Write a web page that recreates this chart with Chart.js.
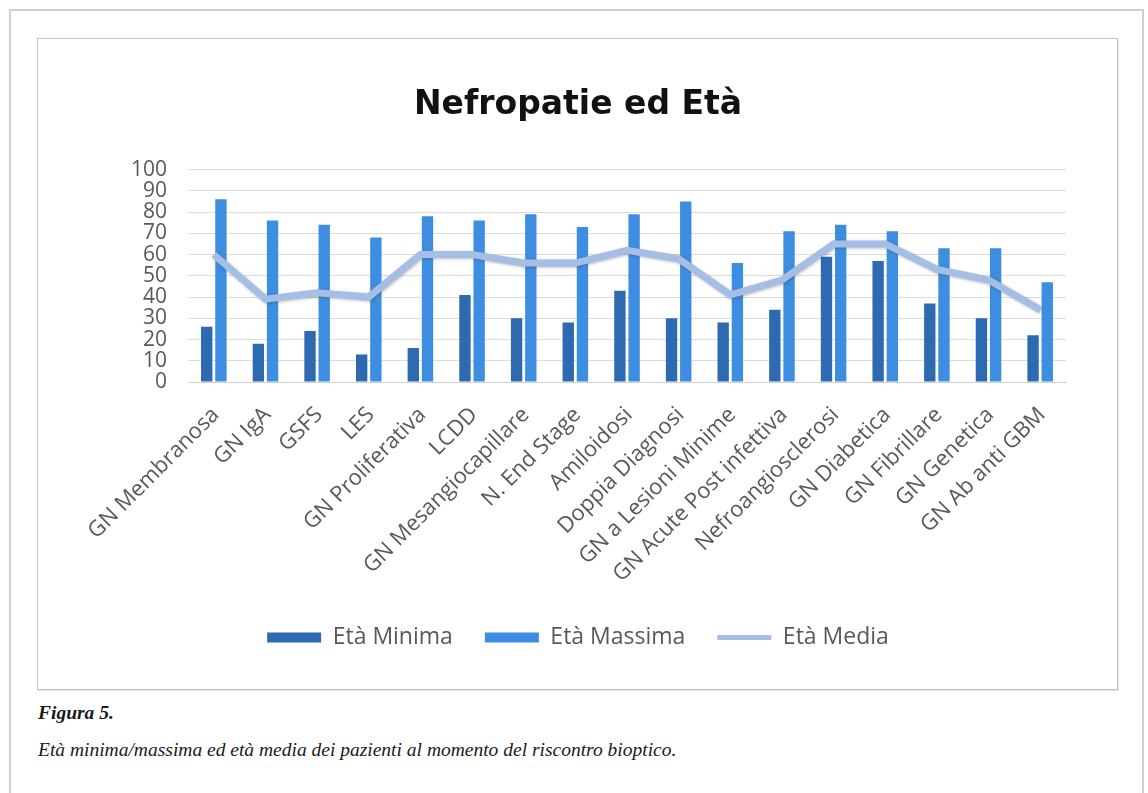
<!DOCTYPE html>
<html lang="it">
<head>
<meta charset="utf-8">
<title>Nefropatie ed Età</title>
<script src="https://cdn.jsdelivr.net/npm/chart.js@4.4.1/dist/chart.umd.min.js"></script>
<style>
  html, body {
    margin: 0;
    padding: 0;
    background: #ffffff;
  }
  body {
    width: 1148px;
    height: 793px;
    position: relative;
    overflow: hidden;
  }
  #frame {
    position: absolute;
    left: 9px;
    top: 9px;
    width: 1131px;
    height: 800px;
    border: 2px solid #d0d0d0;
    border-bottom: none;
  }
  #box {
    position: absolute;
    left: 37px;
    top: 38px;
    width: 1079px;
    height: 650px;
    border: 1px solid #c4c4c4;
    box-shadow: 1px 1px 0 #e2e2e2;
  }
  #chartWrap {
    position: absolute;
    left: 38px;
    top: 39px;
    width: 1079px;
    height: 650px;
  }
  .caption {
    position: absolute;
    left: 38px;
    font-family: "Liberation Serif", "DejaVu Serif", serif;
    font-style: italic;
    color: #1a1a1a;
    font-size: 19.5px;
    white-space: nowrap;
  }
  #capTitle {
    top: 702px;
    font-weight: bold;
  }
  #capText {
    top: 739px;
  }
</style>
</head>
<body>
<div id="frame"></div>
<div id="box"></div>
<div id="chartWrap"><canvas id="chart" width="1079" height="650"></canvas></div>
<div class="caption" id="capTitle">Figura 5.</div>
<div class="caption" id="capText">Età minima/massima ed età media dei pazienti al momento del riscontro bioptico.</div>

<script>
// =====================
// DATA
// =====================
const categories = [
  "GN Membranosa", "GN IgA", "GSFS", "LES", "GN Proliferativa", "LCDD",
  "GN Mesangiocapillare", "N. End Stage", "Amiloidosi", "Doppia Diagnosi",
  "GN a Lesioni Minime", "GN Acute Post infettiva", "Nefroangiosclerosi",
  "GN Diabetica", "GN Fibrillare", "GN Genetica", "GN Ab anti GBM"
];
const etaMinima = [26, 18, 24, 13, 16, 41, 30, 28, 43, 30, 28, 34, 59, 57, 37, 30, 22];
const etaMassima = [86, 76, 74, 68, 78, 76, 79, 73, 79, 85, 56, 71, 74, 71, 63, 63, 47];
const etaMedia = [60, 39, 42, 40, 60, 60, 56, 56, 62, 58, 41, 48, 65, 65, 53, 48, 34];
const yTicks = [0, 10, 20, 30, 40, 50, 60, 70, 80, 90, 100];

// =====================
// COLOURS / FONTS
// =====================
const GREY_TEXT = "#595959";
const FONT = "'Open Sans', 'DejaVu Sans', sans-serif";

// soft shadow under the mean line, like the office chart
const lineShadow = {
  id: "lineShadow",
  beforeDatasetDraw(chart, args) {
    if (args.index !== 2) return;
    const ctx = chart.ctx;
    ctx.save();
    ctx.shadowColor = "rgba(60,60,60,0.35)";
    ctx.shadowBlur = 3;
    ctx.shadowOffsetX = 1;
    ctx.shadowOffsetY = 1;
  },
  afterDatasetDraw(chart, args) {
    if (args.index !== 2) return;
    chart.ctx.restore();
  }
};

// =====================
// CHART
// =====================
new Chart(document.getElementById("chart"), {
  type: "bar",
  data: {
    labels: categories,
    datasets: [
      {
        label: "Età Minima",
        data: etaMinima,
        backgroundColor: "#2d6ab2",
        borderWidth: 0,
        order: 2
      },
      {
        label: "Età Massima",
        data: etaMassima,
        backgroundColor: "#3d8ee0",
        borderWidth: 0,
        order: 2
      },
      {
        type: "line",
        label: "Età Media",
        data: etaMedia,
        borderColor: "#a5bee6",
        backgroundColor: "#a5bee6",
        borderWidth: 7,
        pointRadius: 0,
        tension: 0,
        order: 1
      }
    ]
  },
  options: {
    responsive: false,
    animation: false,
    layout: {
      padding: { left: 52, right: 51, top: 0, bottom: 30 }
    },
    datasets: {
      bar: {
        categoryPercentage: 0.55,
        barPercentage: 0.8
      }
    },
    scales: {
      x: {
        grid: { display: false, drawTicks: false },
        border: { display: true, color: "#d0d0d0", width: 1 },
        ticks: {
          color: GREY_TEXT,
          font: { family: FONT, size: 22 },
          minRotation: 45,
          maxRotation: 45,
          autoSkip: false,
          padding: 20,
          labelOffset: 2
        },
        afterFit(scale) {
          scale.height = 212;
          scale.paddingLeft = 0;
          scale.paddingRight = 0;
        }
      },
      y: {
        min: 0,
        max: 100,
        grid: { color: "#dcdcdc", drawTicks: false },
        border: { display: false },
        afterBuildTicks(scale) {
          scale.ticks = yTicks.map(v => ({ value: v }));
        },
        afterFit(scale) {
          scale.width = 98;
        },
        ticks: {
          color: GREY_TEXT,
          font: { family: FONT, size: 21 },
          padding: 21,
          autoSkip: false
        }
      }
    },
    plugins: {
      title: {
        display: true,
        text: "Nefropatie ed Età",
        color: "#111111",
        font: { family: "'DejaVu Sans', sans-serif", size: 33, weight: "bold" },
        padding: { top: 47, bottom: 44 }
      },
      legend: {
        position: "bottom",
        labels: {
          color: GREY_TEXT,
          font: { family: FONT, size: 23 },
          usePointStyle: true,
          pointStyleWidth: 54,
          boxHeight: 10,
          padding: 32,
          sort: (a, b) => a.datasetIndex - b.datasetIndex,
          generateLabels(chart) {
            const items = Chart.defaults.plugins.legend.labels.generateLabels(chart);
            items.forEach(it => {
              if (it.datasetIndex === 2) {
                it.pointStyle = "line";
                it.lineWidth = 5;
              } else {
                it.pointStyle = "rect";
                it.lineWidth = 0;
              }
            });
            return items;
          }
        }
      },
      tooltip: { enabled: false }
    }
  },
  plugins: [lineShadow]
});
</script>
</body>
</html>
